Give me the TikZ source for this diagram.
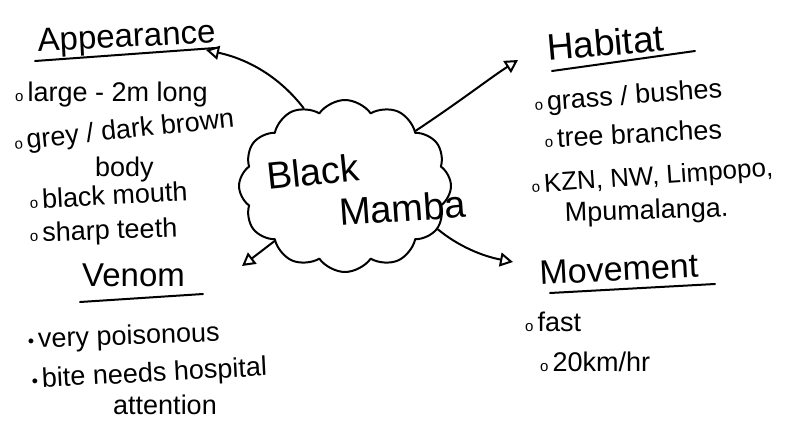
\documentclass[tikz,border=0pt]{standalone}
\usepackage{fontspec}
\setmainfont{Liberation Sans}
\usetikzlibrary{shapes.symbols,arrows.meta}
\newcommand{\obul}{{\fontsize{15}{15}\selectfont o}\hspace{4pt}}
\newcommand{\dbul}{{\fontsize{18}{18}\selectfont \textbullet}\hspace{4pt}}
\tikzset{
  ink/.style={line width=2pt, black, line cap=round, line join=round},
  head/.style={anchor=base west, inner sep=0pt, font=\fontsize{33}{36}\selectfont},
  item/.style={anchor=base west, inner sep=0pt, font=\fontsize{27}{30}\selectfont},
  title/.style={anchor=base west, inner sep=0pt, font=\fontsize{38}{44}\selectfont},
  tip/.style={-{Triangle[open,length=13pt,width=14pt]}}
}
\begin{document}
\begin{tikzpicture}[x=1pt,y=-1pt]
\useasboundingbox[fill=white] (0,0) rectangle (788,421);

% central cloud
\node[ink, draw, cloud, cloud puffs=12, cloud puff arc=110, aspect=1.25,
      minimum width=212pt, minimum height=172pt] (cloud) at (345,186) {};
\node[title, rotate=6] (black) at (268,190) {Black};
\node[title, rotate=4] (mamba) at (340,226) {Mamba};

% Appearance
\node[head, rotate=3] (app) at (38,52) {Appearance};
\draw[ink] (35,61) -- (215,48);
\node[item] (a1) at (15,101) {\obul large - 2m long};
\node[item, rotate=6] (a2) at (15,150) {\obul grey / dark brown};
\node[item] (a3) at (95,176) {body};
\node[item, rotate=3] (a4) at (30,209) {\obul black mouth};
\node[item, rotate=2] (a5) at (30,242) {\obul sharp teeth};

% Venom
\node[head] (ven) at (82,286) {Venom};
\draw[ink] (80,302) -- (203,294);
\node[item, rotate=2] (v1) at (28,348) {\dbul very poisonous};
\node[item, rotate=3] (v2) at (32,388) {\dbul bite needs hospital};
\node[item] (v3) at (113,414) {attention};

% Habitat
\node[head, rotate=5, font=\fontsize{37}{40}\selectfont] (hab) at (548,61) {Habitat};
\draw[ink] (552,71) -- (695,51);
\node[item, rotate=4] (h1) at (535,111) {\obul grass / bushes};
\node[item, rotate=3] (h2) at (545,148) {\obul tree branches};
\node[item, rotate=4, font=\fontsize{26}{30}\selectfont] (h3) at (532,193) {\obul KZN, NW, Limpopo,};
\node[item, rotate=2] (h4) at (565,222) {Mpumalanga.};

% Movement
\node[head, rotate=3, font=\fontsize{34}{38}\selectfont] (mov) at (540,285) {Movement};
\draw[ink] (550,293) -- (715,284);
\node[item] (m1) at (525,331) {\obul fast};
\node[item] (m2) at (540,371) {\obul 20km/hr};

% arrows
\coordinate (ta) at (206,50);
\coordinate (tv) at (242,266);
\coordinate (th) at (518,60);
\coordinate (tm) at (513,262);
\draw[ink, tip] (cloud.118) .. controls (282,80) and (252,60) .. (ta);
\draw[ink, tip] (cloud.218) -- (tv);
\draw[ink, tip] (cloud.38) .. controls (462,100) and (490,78) .. (th);
\draw[ink, tip] (cloud.335) .. controls (458,246) and (482,256) .. (tm);
\end{tikzpicture}
\end{document}
